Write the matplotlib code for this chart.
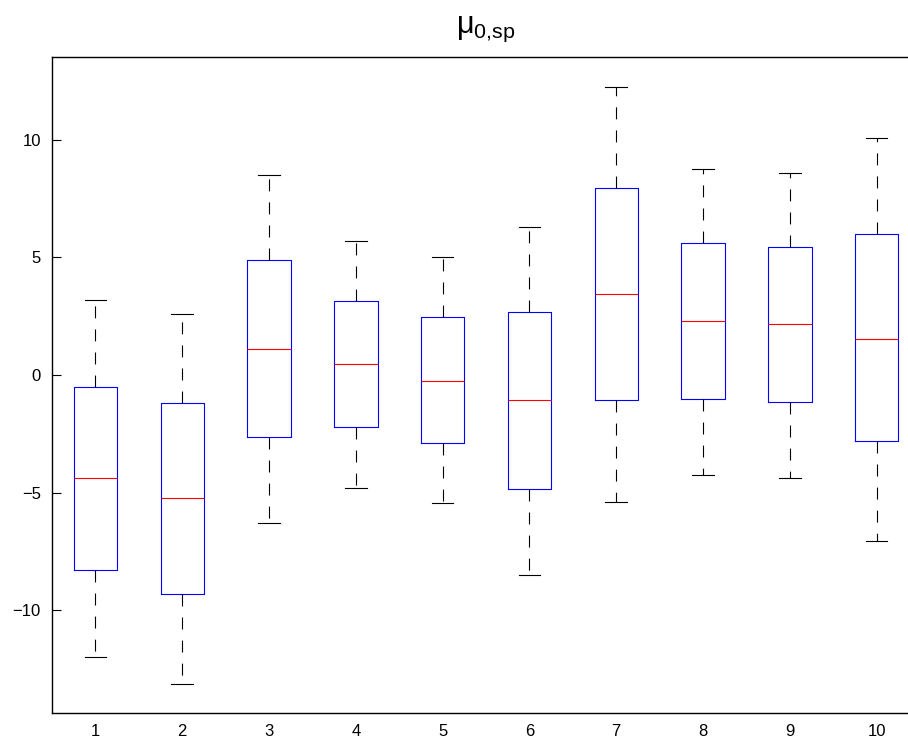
import numpy as np
import matplotlib
matplotlib.use("Agg")
import matplotlib.pyplot as plt

plt.rcParams['font.family'] = ['Liberation Sans', 'DejaVu Sans']
plt.rcParams['mathtext.fontset'] = 'custom'
plt.rcParams['mathtext.rm'] = 'Liberation Sans'
plt.rcParams['mathtext.it'] = 'Liberation Sans:italic'
plt.rcParams['lines.scale_dashes'] = False

# whisker ends, quartiles, medians
groups = [1, 2, 3, 4, 5, 6, 7, 8, 9, 10]
whis_hi = [3.2, 2.6, 8.5, 5.7, 5.0, 6.3, 12.25, 8.75, 8.6, 10.1]
q3 = [-0.5, -1.2, 4.9, 3.15, 2.45, 2.7, 7.95, 5.6, 5.45, 6.0]
medians = [-4.4, -5.25, 1.1, 0.45, -0.25, -1.05, 3.45, 2.3, 2.15, 1.55]
q1 = [-8.3, -9.3, -2.65, -2.2, -2.9, -4.85, -1.05, -1.0, -1.15, -2.8]
whis_lo = [-12.0, -13.15, -6.3, -4.8, -5.45, -8.5, -5.4, -4.25, -4.4, -7.05]

stats = []
for i in range(len(groups)):
  stats.append({'med': medians[i], 'q1': q1[i], 'q3': q3[i],
                'whislo': whis_lo[i], 'whishi': whis_hi[i], 'fliers': []})

fig = plt.figure(figsize=(9.08, 7.41), dpi=100, facecolor='w')
ax = fig.add_axes([52 / 908, 1 - 713 / 741, 868 / 908, 656 / 741])

ax.bxp(stats, positions=groups, widths=0.5, showfliers=False,
       boxprops=dict(color='blue', linewidth=0.8),
       medianprops=dict(color='red', linewidth=0.8),
       whiskerprops=dict(color='black', linewidth=0.8, linestyle=(0, (8.6, 8.0))),
       capprops=dict(color='black', linewidth=0.8),
       capwidths=0.25)

ax.set_xlim(0.5, 10.5)
ax.set_ylim(-14.38, 13.53)
ax.set_xticks(groups)
ax.set_xticklabels([str(g) for g in groups], fontsize=12)
ax.set_yticks([-10, -5, 0, 5, 10])
ax.set_yticklabels(['\u221210', '\u22125', '0', '5', '10'], fontsize=12)
ax.tick_params(direction='in', length=6.5, width=0.8, top=False, right=False)
ax.tick_params(axis='x', length=0, pad=8)
ax.tick_params(axis='y', pad=8)
ax.spines['right'].set_visible(False)
for s in ax.spines.values():
  s.set_linewidth(1.0)

ax.set_title(r'μ$_{\mathrm{0{,}sp}}$', fontsize=22, pad=17)

fig.savefig('out.png', dpi=100)
